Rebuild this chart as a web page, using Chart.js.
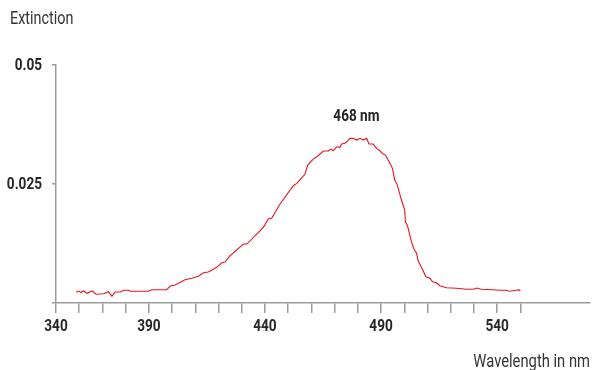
<!DOCTYPE html>
<html>
<head>
<meta charset="utf-8">
<script src="https://cdn.jsdelivr.net/npm/chart.js@4"></script>
<style>
  body { margin: 0; background: #fff; }
  #wrap { width: 593px; height: 370px; position: relative; }
</style>
</head>
<body>
<div id="wrap"><canvas id="spectrum"></canvas></div>
<script>
const FONT = "Roboto, 'Liberation Sans', sans-serif";

// absorption spectrum (axis units, extinction)
const wavelength = [
  358.7, 359.7, 360.8, 361.9, 363.3, 365.5, 367.3, 370.5, 372.6, 374.1,
  375.5, 377.7, 379.1, 381.2, 382.0, 389.8, 391.3, 397.7, 399.2, 401.3,
  405.6, 408.5, 411.3, 413.5, 415.6, 417.8, 419.2, 421.4, 422.8, 425.0,
  425.7, 430.7, 432.2, 439.3, 441.4, 442.9, 446.5, 452.2, 453.7, 457.2,
  458.4, 460.8, 462.9, 465.1, 467.2, 468.4, 469.4, 470.9, 472.3, 473.0,
  474.4, 475.2, 476.6, 478.0, 479.5, 480.9, 482.3, 483.8, 484.8, 486.6,
  488.1, 489.5, 490.9, 491.9, 493.8, 494.9, 495.9, 496.9, 498.8, 500.2,
  500.5, 501.4, 503.1, 504.2, 505.3, 506.0, 507.8, 509.3, 511.0, 512.2,
  513.9, 515.3, 518.2, 522.5, 526.8, 529.6, 531.3, 533.2, 538.2, 541.1,
  544.0, 545.1, 548.3, 549.4, 550.0
];
const extinction = [
  0.00225, 0.00252, 0.00225, 0.00252, 0.00204, 0.00252, 0.00183, 0.00195, 0.00237, 0.00141,
  0.00231, 0.00231, 0.00267, 0.00267, 0.00246, 0.00246, 0.00279, 0.00279, 0.00357, 0.00378,
  0.00489, 0.00519, 0.00561, 0.00636, 0.00651, 0.00708, 0.00750, 0.00846, 0.00861, 0.00993,
  0.01023, 0.01239, 0.01239, 0.01590, 0.01764, 0.01779, 0.02079, 0.02463, 0.02514, 0.02703,
  0.02898, 0.03024, 0.03093, 0.03192, 0.03192, 0.03234, 0.03198, 0.03282, 0.03270, 0.03339,
  0.03354, 0.03387, 0.03459, 0.03459, 0.03423, 0.03459, 0.03423, 0.03459, 0.03339, 0.03339,
  0.03249, 0.03198, 0.03129, 0.03108, 0.02934, 0.02829, 0.02583, 0.02493, 0.02163, 0.01953,
  0.01707, 0.01623, 0.01287, 0.01128, 0.01044, 0.00882, 0.00714, 0.00552, 0.00519, 0.00447,
  0.00426, 0.00363, 0.00321, 0.00309, 0.00288, 0.00288, 0.00315, 0.00288, 0.00279, 0.00267,
  0.00267, 0.00246, 0.00267, 0.00279, 0.00252
];

const xLabelPos = [350, 390, 440, 490, 540];
const xLabelText = ['340', '390', '440', '490', '540'];
const yTickText = ['', '0.025', '0.05'];
const peakLabel = '468 nm';
const xTitle = 'Wavelength in nm';
const yTitle = 'Extinction';

const AXIS = '#9b9b9b';
const INK = '#262626';

// condensed lettering: Roboto squeezed horizontally
function squeezed(c, text, x, y, align, font, color, sx = 0.8) {
  c.save();
  c.translate(x, y);
  c.scale(sx, 1);
  c.font = font;
  c.fillStyle = color;
  c.textAlign = align;
  c.textBaseline = 'middle';
  c.fillText(text, 0, 0);
  c.restore();
}

const textPlugin = {
  id: 'texts',
  afterDraw(chart) {
    const c = chart.ctx;
    const xs = chart.scales.x, ys = chart.scales.y;
    const bold = 'bold 17px ' + FONT;

    // tick labels at the scales' own tick positions
    xs.ticks.forEach(t => {
      const i = xLabelPos.indexOf(t.value);
      if (i >= 0) squeezed(c, xLabelText[i], xs.getPixelForValue(t.value), 327, 'center', bold, INK);
    });
    ys.ticks.forEach(t => {
      const s = yTickText[Math.round(t.value / 0.025)];
      if (s) squeezed(c, s, 42, ys.getPixelForValue(t.value) + 0.5, 'right', bold, INK);
    });

    squeezed(c, yTitle, 10, 19, 'left', '18px ' + FONT, '#333', 0.8);
    squeezed(c, xTitle, 590, 362, 'right', '18px ' + FONT, '#333', 0.82);

    // peak label above the highest points
    const top = Math.max(...extinction);
    const at = wavelength.filter((w, i) => extinction[i] === top);
    const px = xs.getPixelForValue(at.reduce((a, b) => a + b, 0) / at.length);
    const py = ys.getPixelForValue(top);
    squeezed(c, peakLabel, px - 1, py - 22, 'center', bold, INK);
  }
};

new Chart(document.getElementById('spectrum'), {
  type: 'line',
  data: {
    datasets: [{
      data: wavelength.map((w, i) => ({ x: w, y: extinction[i] })),
      borderColor: '#e8141c',
      borderWidth: 1.1,
      pointRadius: 0,
      tension: 0,
      fill: false
    }]
  },
  options: {
    responsive: true,
    maintainAspectRatio: false,
    animation: false,
    layout: { padding: { top: 65, right: 3, left: 0, bottom: 0 } },
    plugins: { legend: { display: false }, tooltip: { enabled: false } },
    scales: {
      x: {
        type: 'linear',
        min: 350,
        max: 580,
        afterFit: s => { s.height = 67; },
        border: { color: AXIS, width: 1.5 },
        grid: {
          drawOnChartArea: false,
          tickLength: 10,
          lineWidth: 1.5,
          tickColor: ctx => (ctx.tick && ctx.tick.value > 550 ? 'rgba(0,0,0,0)' : AXIS)
        },
        ticks: { stepSize: 10, autoSkip: false, display: false }
      },
      y: {
        min: 0,
        max: 0.05,
        afterFit: s => { s.width = 56; },
        border: { color: AXIS, width: 1.5 },
        grid: { drawOnChartArea: false, tickLength: 4, lineWidth: 1.5, tickColor: AXIS },
        ticks: { stepSize: 0.025, display: false }
      }
    }
  },
  plugins: [textPlugin]
});
</script>
</body>
</html>
